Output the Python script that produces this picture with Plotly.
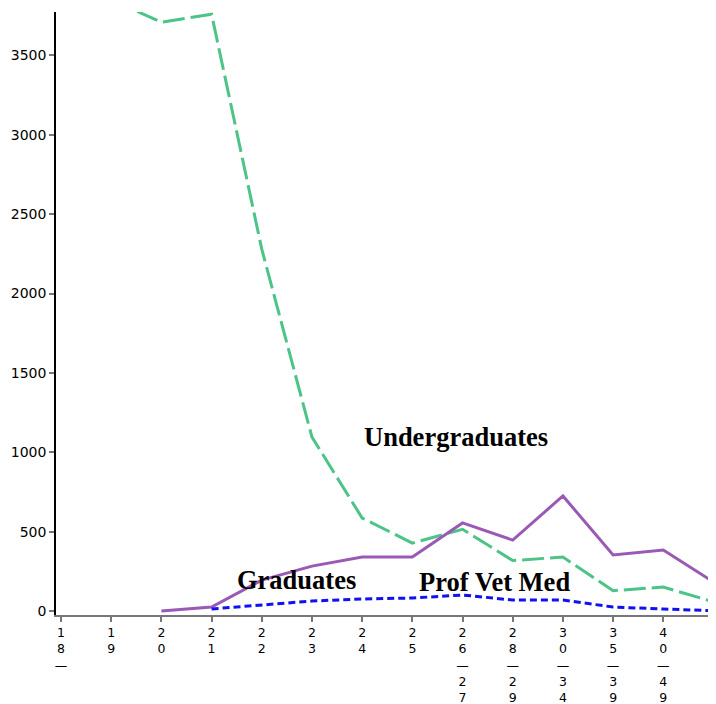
import plotly.graph_objects as go

categories = ["18–", "19", "20", "21", "22", "23", "24", "25", "26–27", "28–29", "30–34", "35–39", "40–49", "50+"]
undergraduates = [4000, 3850, 3710, 3760, 2280, 1096, 586, 428, 515, 318, 340, 128, 151, 58]
graduates = [None, None, 0, 25, 195, 283, 340, 340, 555, 447, 725, 353, 384, 183]
prof_vet_med = [None, None, None, 13, 38, 63, 76, 82, 101, 69, 69, 25, 13, 2]
y_ticks = [0, 500, 1000, 1500, 2000, 2500, 3000, 3500]
tick_labels = ["<br>".join(list(c.replace("–", "—"))) for c in categories]

fig = go.Figure()
fig.add_trace(go.Scatter(x=categories, y=undergraduates, mode="lines", name="Undergraduates",
                         line=dict(color="#4cc488", width=3, dash="22px,6px")))
fig.add_trace(go.Scatter(x=categories, y=graduates, mode="lines", name="Graduates",
                         line=dict(color="#9b59b6", width=3)))
fig.add_trace(go.Scatter(x=categories, y=prof_vet_med, mode="lines", name="Prof Vet Med",
                         line=dict(color="#1010f0", width=3, dash="7px,4px")))

ann_font = dict(family="Liberation Serif, Times New Roman, serif", size=26.5, color="black")
for txt, ax_, ay_ in [("Undergraduates", 0.606, 0.295), ("Graduates", 0.365, 0.058), ("Prof Vet Med", 0.664, 0.055)]:
    fig.add_annotation(x=ax_, y=ay_, xref="paper", yref="paper", text="<b>" + txt + "</b>",
                       xanchor="center", yanchor="middle", showarrow=False, font=ann_font)

fig.update_layout(
    width=708, height=696,
    margin=dict(l=48, r=0, t=4, b=89, autoexpand=False),
    plot_bgcolor="white", paper_bgcolor="white",
    showlegend=False,
    font=dict(family="DejaVu Sans, sans-serif", size=14, color="black"),
)
fig.update_xaxes(
    type="category", range=[-0.1, 13.05], automargin=False,
    tickmode="array", tickvals=categories, ticktext=tick_labels, tickangle=0,
    showline=True, linecolor="#777", linewidth=2,
    ticks="outside", ticklen=5, tickcolor="#777", tickwidth=1.5,
    showgrid=False, zeroline=False,
    tickfont=dict(family="DejaVu Sans, sans-serif", size=12.5, color="black"),
)
fig.update_yaxes(
    range=[-25, 3774], automargin=False,
    tickmode="array", tickvals=y_ticks,
    showline=True, linecolor="black", linewidth=1.5,
    ticks="outside", ticklen=5, tickcolor="#777", tickwidth=1.5,
    showgrid=False, zeroline=False,
    tickfont=dict(family="DejaVu Sans, sans-serif", size=14, color="black"),
)

fig.write_html("out.html")
